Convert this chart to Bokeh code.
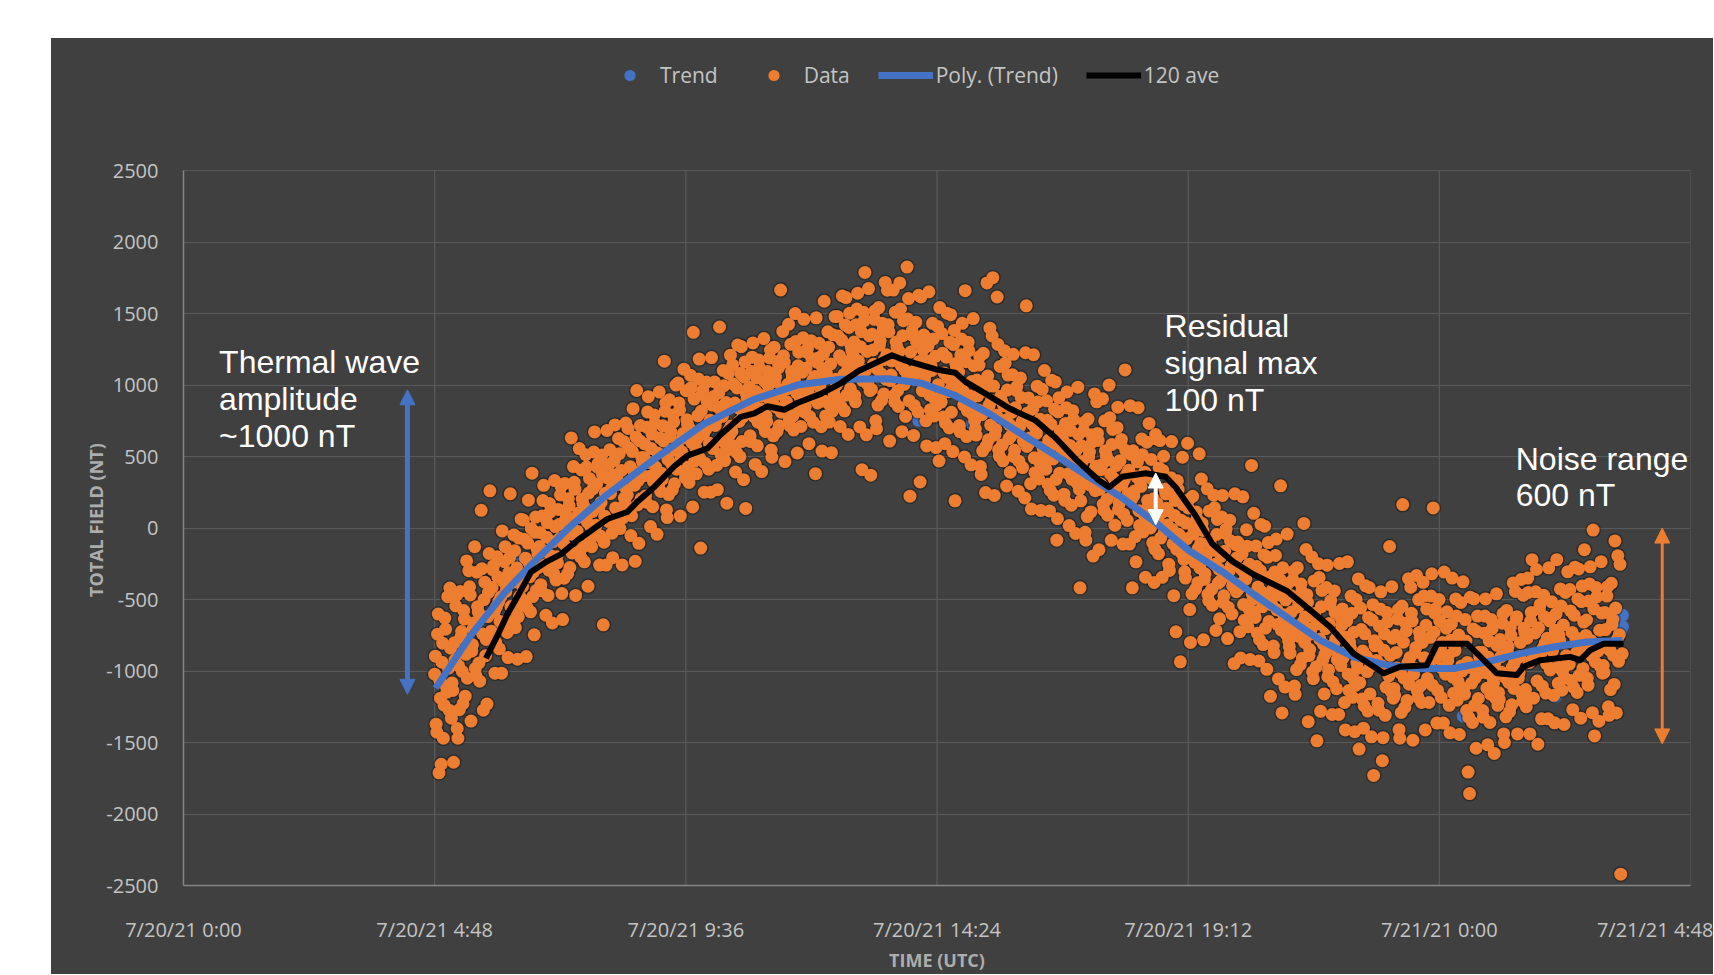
import numpy as np
import pandas as pd
from bokeh.plotting import figure
from bokeh.models import (Range1d, FixedTicker, CustomJSTickFormatter, Legend, LegendItem,
                          Label, Arrow, NormalHead)
from bokeh.embed import file_html
from bokeh.resources import INLINE

# ---------------- data ----------------
BASE = "2021-07-20 00:00"

x_tick_hours = [0, 4.8, 9.6, 14.4, 19.2, 24.0, 28.8]
x_tick_labels = ["7/20/21 0:00", "7/20/21 4:48", "7/20/21 9:36", "7/20/21 14:24",
                 "7/20/21 19:12", "7/21/21 0:00", "7/21/21 4:48"]
y_ticks = [-2500, -2000, -1500, -1000, -500, 0, 500, 1000, 1500, 2000, 2500]
y_tick_labels = ["-2500", "-2000", "-1500", "-1000", "-500", "0", "500", "1000",
                 "1500", "2000", "2500"]

# "Data" series (nT).  Samples start 7/20/21 4:48, one every 50 s:
# data_values_a holds the even samples, data_values_b the odd ones.
data_start_hour = 4.8
data_step_seconds = 50
data_values_a = [
    -1022, -1372, -742, -1712, -1190, -938, -1470, -630, -1106, -480, -1274, -840,
    -1083, -1638, -923, -470, -1470, -1270, -764, -1003, -577, -1176, -230, -843,
    -411, -1350, -817, -665, -982, -309, -588, -1071, 124, -741, -500, -893,
    -1231, -450, 260, -721, -291, -585, -800, -201, -517, -653, -1015, -370,
    -235, -444, -730, -312, 240, -653, -378, -158, -576, -917, -70, -510,
    -372, 56, -511, -899, -105, -244, -586, 384, -308, -30, -436, -179,
    -129, -396, 85, 299, -257, -64, -471, 171, -193, -664, -321, 10,
    -201, 130, -73, 291, -640, -351, 56, -137, 205, -276, 630, -9,
    320, -471, -22, 106, -161, 406, 171, -236, 513, 42, 245, -86,
    -131, 276, 672, 19, 425, 147, -56, 511, -677, 83, -259, 350,
    445, 242, -36, 371, 721, 39, 306, 520, 114, -258, 606, 178,
    268, 696, 129, -53, 535, 396, -233, 962, 332, 610, 204, 461,
    491, 224, 705, 919, 363, 556, 149, 791, 427, -44, 299, 630,
    384, 715, 1167, 876, 73, 234, 641, 448, 790, 309, 1000, 576,
    875, 84, 533, 661, 394, 961, 726, 319, 1068, 597, 1369, 469,
    379, 786, 1182, -140, 935, 657, 454, 1021, 721, 593, 251, 860,
    920, 717, 439, 846, 1406, 514, 781, 995, 589, 174, 1081, 653,
    713, 1141, 574, 392, 980, 841, 499, 1269, 777, 1055, 137, 906,
    895, 645, 1095, 1295, 775, 955, 575, 1175, 835, 395, 715, 1025,
    785, 1095, 905, 1245, 495, 645, 1025, 845, 1165, 715, 1665, 965,
    1205, 465, 885, 1005, 755, 1285, 1065, 685, 1500, 945, 1135, 825,
    710, 1090, 1460, 850, 1230, 970, 780, 1310, 1030, 910, 380, 1160,
    1190, 987, 709, 1116, 1586, 784, 1051, 1265, 859, 527, 1351, 923,
    1040, 1480, 897, 710, 1315, 1172, 820, 1612, 1106, 1403, 974, 1238,
    1202, 927, 1422, 1642, 1070, 1268, 408, 1510, 1788, 652, 1004, 1345,
    370, 1355, 1146, 1520, 695, 860, 1278, 1080, 1432, 937, 1718, 1212,
    1422, 608, 1070, 1202, 927, 1510, 1268, 850, 1714, 1136, 1345, 1004,
    780, 1825, 1605, 223, 1352, 1066, 857, 1440, 1132, 1628, 322, 1275,
    1245, 1036, 750, 1168, 1652, 827, 1102, 1322, 904, 563, 1410, 469,
    920, 1360, 777, 590, 1195, 1052, 700, 1492, 986, 1283, 190, 1118,
    992, 717, 1212, 1432, 860, 1660, 640, 1300, 926, 442, 794, 1135,
    694, 1035, 826, 1200, 375, 540, 958, 248, 1714, 617, 1398, 892,
    1751, 228, 690, 1616, 547, 1130, 888, 470, 1240, 756, 965, 624,
    390, 808, 1215, 544, 962, 676, 467, 1050, 742, 610, 210, 1554,
    805, 596, 310, 728, 1212, 387, 662, 882, 464, 123, 970, 530,
    450, 890, 307, 120, 725, 582, 230, 1022, -85, 813, 384, 648,
    512, 237, 732, 952, 380, 578, 160, 820, 446, -38, 314, 655,
    -418, 575, 366, 740, -85, 80, 498, 300, 652, -196, 938, 432,
    662, -152, 310, 442, 167, 750, 508, 90, 1000, 376, 585, 244,
    20, 438, 845, 174, 592, 306, 97, 1106, 372, 240, -112, 515,
    -418, 226, -60, 358, 842, 17, 292, 512, 94, -344, 600, 160,
    40, 480, -103, -381, 654, 172, -180, 612, 106, 403, -26, 238,
    22, -253, 242, 605, -110, 88, -726, 330, -44, -936, -176, 165,
    -306, 35, 593, 200, -800, -460, -42, -240, 112, -383, 519, -108,
    32, -782, -320, -188, -463, 120, -122, -540, 230, -254, -45, -386,
    -635, -198, 228, -474, -37, -336, -555, 55, -267, -405, -948, -117,
    -207, -426, -725, -288, 218, -645, -357, -127, -564, -920, 438, -495,
    -585, -125, -735, -930, -297, -447, -815, 13, -516, -205, -654, -1177,
    -537, -825, -307, -77, -675, -468, 295, -1293, -606, -1112, -744, -387,
    -829, -472, -691, -300, -1163, -990, -553, -760, -392, -910, 32, -622,
    -466, -1354, -850, -706, -1006, -370, -634, -1488, -250, -778, -550, -922,
    -1160, -704, -260, -992, -536, -848, -1076, -440, -776, -920, -1304, -620,
    -680, -908, -1220, -764, -236, -1136, -836, -596, -1052, -1424, -500, -980,
    -1546, -560, -1196, -1400, -740, -896, -1280, -416, -968, -644, -1730, -824,
    -926, -1226, -686, -446, -1627, -854, -1310, -590, -998, -129, -1142, -770,
    -1122, -750, -978, -570, -1470, -1290, 164, -1050, -666, -1206, -354, -906,
    -596, -1484, -980, -836, -1136, -500, -764, -1220, -380, -908, -680, -1052,
    -1220, -764, -320, 141, -596, -908, -1136, -500, -836, -980, -1364, -680,
    -700, -928, -1240, -784, -350, -1156, -856, -616, -1072, -1444, -520, -1000,
    -1120, -640, -1276, -1707, -1857, -976, -1360, -496, -1048, -724, -1192, -904,
    -976, -1276, -736, -496, -1120, -904, -1360, -640, -1048, -1576, -1192, -820,
    -1152, -780, -1008, -600, -1500, -1320, -864, -1080, -696, -1236, -384, -936,
    -640, -1440, -1010, -800, -1160, -470, -730, -1250, -350, -940, -650, -221,
    -1190, -734, -290, -1512, -566, -878, -1106, -470, -806, -950, -1334, -650,
    -630, -858, -1170, -714, -221, -1086, -786, -546, -1002, -1374, -450, -930,
    -910, -430, -1066, -1270, -610, -766, -1150, -286, -838, -514, -982, -152,
    -751, -1051, -511, -271, -895, -14, -1454, -415, -823, -1351, -967, -595,
    -962, -590, -818, -410, -1310, -1130, -674, -890, -90, -1293, -194, -746,
    -2421, -880,
]
data_values_b = [
    -896, -1428, -602, -1064, -1652, -805, -1239, -707, -1148, -980, -420, -1330,
    -1136, -803, -544, -1402, -963, -444, -724, -1229, -637, -883, -1050, -298,
    -468, -861, -703, -131, -1033, -550, -944, -626, -284, -1274, -379, -779,
    -619, -178, -766, -416, -263, -1015, -551, -342, -845, -483, -20, -693,
    -130, -411, -906, -207, -549, -345, -48, -697, -279, -620, -477, 62,
    -409, -78, -211, -554, 195, -340, -3, -479, -747, 77, -147, -276,
    -32, -439, 192, -161, -610, 37, -294, 112, -225, -96, 332, -364,
    -244, 24, 232, -458, -105, 312, 88, -319, 157, -41, -174, 430,
    272, -59, 74, 556, -204, 203, -129, 139, 427, -407, 347, 10,
    115, 532, -24, 308, 452, -259, 179, 377, -99, 244, 682, 46,
    547, 274, -207, 472, 141, 339, 627, -4, 403, 71, 210, 734,
    231, 562, 429, 86, 835, 300, 637, 161, -107, 717, 493, 364,
    588, 181, 812, 459, 10, 657, 326, 732, 395, 524, 952, 256,
    341, 609, 817, 127, 480, 897, 673, 266, 742, 544, 411, 1015,
    827, 496, 629, 1111, 351, 758, 426, 694, 982, 148, 902, 565,
    625, 1042, 486, 818, 962, 251, 689, 887, 411, 754, 1192, 556,
    1022, 749, 268, 947, 616, 814, 1102, 471, 878, 546, 685, 1209,
    676, 1007, 874, 531, 1280, 745, 1082, 606, 338, 1162, 938, 809,
    985, 605, 1195, 865, 445, 1050, 740, 1120, 805, 925, 1325, 675,
    745, 995, 1190, 545, 875, 1265, 1055, 675, 1120, 935, 810, 1375,
    1160, 850, 975, 1425, 715, 1095, 785, 1035, 1305, 525, 1230, 915,
    940, 1330, 810, 1120, 1255, 590, 1000, 1185, 740, 1060, 1470, 875,
    1292, 1019, 538, 1217, 886, 1084, 1372, 741, 1148, 816, 955, 1479,
    1001, 1343, 1205, 853, 1623, 1073, 1420, 930, 655, 1502, 1271, 1139,
    1301, 883, 1532, 1169, 707, 1373, 1031, 1450, 1103, 1235, 1675, 960,
    970, 1245, 1460, 750, 1113, 1542, 1311, 893, 1383, 1179, 1041, 1663,
    1373, 1031, 1169, 1664, 883, 1301, 960, 1235, 1532, 674, 1450, 1103,
    1033, 1462, 890, 1231, 1380, 648, 1099, 1303, 813, 1165, 1616, 961,
    1350, 1069, 574, 1273, 931, 1135, 1432, 783, 1201, 860, 1003, 1542,
    881, 1223, 1085, 733, 1503, 953, 1300, 810, 535, 1382, 1151, 1019,
    1091, 673, 1322, 959, 497, 1163, 821, 1240, 893, 1025, 1465, 750,
    650, 925, 1140, 430, 793, 1222, 991, 573, 1063, 859, 721, 1343,
    993, 651, 789, 1284, 503, 921, 580, 855, 1152, 294, 1070, 723,
    643, 1072, 500, 841, 990, 258, 709, 913, 423, 775, 1226, 571,
    910, 629, 134, 833, 491, 695, 992, 343, 761, 420, 563, 1102,
    411, 753, 615, 263, 1033, 483, 830, 340, 65, 912, 681, 549,
    611, 193, 842, 479, 17, 683, 341, 760, 413, 545, 985, 270,
    190, 465, 680, -30, 333, 762, 531, 113, 603, 399, 261, 883,
    613, 271, 409, 904, 123, 541, 200, 475, 772, -86, 690, 343,
    273, 702, 130, 471, 620, -112, 339, 543, 53, 405, 856, 201,
    540, 259, -236, 463, 121, 325, 622, -27, 391, 50, 193, 732,
    1, 343, 205, -147, 623, 73, 420, -70, -345, 502, 271, 139,
    121, -297, 352, -11, -473, 193, -149, 270, -77, 55, 495, -220,
    -350, -75, 140, -570, -207, 222, -9, -427, 63, -141, -279, 343,
    -17, -359, -221, 274, -507, -89, -430, -155, 142, -716, 60, -287,
    -371, 78, -520, -163, -8, -773, -302, -89, -601, -232, 239, -445,
    -98, -392, -909, -179, -535, -322, -12, -691, -253, -610, -461, 103,
    -625, -269, -412, -781, 25, -551, -188, -700, -988, -102, -343, -482,
    -433, -871, -192, -572, -1055, -359, -715, -278, -641, -502, -42, -790,
    -875, -587, -363, -1105, -726, -277, -518, -956, -444, -657, -800, -150,
    -520, -892, -742, -202, -1054, -598, -970, -670, -346, -1282, -436, -814,
    -884, -416, -1040, -668, -506, -1304, -812, -590, -1124, -740, -248, -962,
    -566, -872, -1412, -650, -1022, -800, -476, -1184, -728, -1100, -944, -356,
    -1082, -710, -860, -1244, -404, -1004, -626, -1160, -1460, -536, -788, -932,
    -818, -1274, -566, -962, -1466, -740, -1112, -656, -1034, -890, -410, -1190,
    -1170, -870, -636, -1410, -1014, -546, -798, -1254, -720, -942, -1092, -414,
    -650, -1022, -872, -332, -1184, -728, -1100, -800, -476, -1412, -566, -944,
    -944, -476, -1100, -728, -566, -1364, -872, -650, -1184, -800, -308, -1022,
    -586, -892, -1432, -670, -1042, -820, -496, -1204, -748, -1120, -964, -376,
    -1162, -790, -940, -1324, -484, -1084, -706, -1240, -1540, -616, -868, -1012,
    -868, -1324, -616, -1012, -1516, -790, -1162, -706, -1084, -940, -460, -1240,
    -1200, -900, -666, -1440, -1044, -576, -828, -1284, -750, -972, -1122, -444,
    -620, -1050, -900, -360, -1210, -700, -1130, -770, -450, -1440, -590, -915,
    -914, -446, -1070, -698, -536, -1334, -842, -620, -1154, -770, -278, -992,
    -516, -822, -1362, -600, -972, -750, -426, -1134, -678, -1050, -894, -306,
    -952, -580, -730, -1114, -274, -874, -496, -1030, -1330, -406, -658, -802,
    -643, -1099, -391, -787, -1291, -565, -937, -481, -859, -715, -235, -1015,
    -1010, -710, -476, -1250, -854, -386, -638, -1094, -560, -782, -932, -254,
]

# "Trend" series points visible in the picture (hours since 7/20 0:00, nT)
trend_hours = [6.45, 14.05, 15.07, 18.84, 19.79, 24.46, 26.22, 27.46, 27.50, 27.50]
trend_values = [-208, 753, 728, -270, -418, -1316, -1177, -730, -690, -610]

# Poly. (Trend) curve
poly_hours = [4.82, 5.49, 6.13, 6.64, 7.40, 8.10, 9.00, 9.95, 10.91, 11.73, 12.56, 13.47,
              14.11, 14.75, 15.39, 16.03, 16.67, 17.30, 17.94, 18.58, 19.22, 19.86, 20.45,
              21.09, 21.73, 22.36, 23.00, 23.64, 24.27, 24.91, 25.55, 26.18, 26.82, 27.50]
poly_values = [-1120, -751, -455, -258, 14, 235, 482, 728, 901, 1000, 1040, 1044,
               1012, 926, 802, 654, 507, 359, 211, 38, -159, -307, -463,
               -624, -786, -901, -959, -982, -982, -936, -878, -832, -797, -786]

# 120 ave (moving average)
ave_hours = [5.78, 6.00, 6.19, 6.38, 6.64, 6.95, 7.21, 7.53, 7.72, 8.10, 8.48, 8.68, 8.99,
             9.38, 9.63, 10.01, 10.27, 10.65, 10.91, 11.16, 11.48, 11.74, 12.18, 12.56,
             12.90, 13.54, 13.79, 14.37, 14.75, 14.94, 15.39, 15.77, 16.28, 16.67, 17.05,
             17.49, 17.69, 17.94, 18.39, 18.77, 18.96, 19.34, 19.66, 20.05, 20.45, 21.09,
             21.47, 21.92, 22.36, 22.94, 23.25, 23.76, 23.96, 24.15, 24.53, 24.85, 25.10,
             25.48, 25.61, 25.93, 26.50, 26.69, 26.88, 27.14, 27.52]
ave_values = [-911, -751, -603, -480, -308, -233, -184, -85, -36, 63, 112, 186, 285,
              432, 506, 556, 654, 778, 802, 852, 827, 876, 938, 1012,
              1098, 1209, 1172, 1111, 1086, 1024, 926, 839, 753, 630, 482,
              334, 285, 359, 383, 359, 285, 88, -110, -233, -325, -440,
              -555, -694, -878, -1016, -970, -959, -809, -809, -809, -924, -1016,
              -1028, -970, -924, -901, -924, -855, -809, -809]

# annotations: (text, hour, value)
notes = [("Thermal wave", 0.68, 1158), ("amplitude", 0.68, 904), ("~1000 nT", 0.68, 642),
         ("Residual", 18.75, 1410), ("signal max", 18.75, 1157), ("100 nT", 18.75, 894),
         ("Noise range", 25.46, 485), ("600 nT", 25.46, 231)]
# arrows: (hour, value_top, value_bottom, colour, width)
arrows = [(4.28, 967, -1163, "#4472C4", 5), (18.58, 385, 23, "#FFFFFF", 4),
          (28.26, 0, -1510, "#ED7D31", 3)]

# ---------------- layout (pixels) ----------------
FIG_W, FIG_H = 1662, 936
BORDER_L, BORDER_R, BORDER_T, BORDER_B = 132, 23, 4, 79
AXIS_TOP_PX = 133.6          # distance from figure top to the 2500 gridline
frame_h = FIG_H - BORDER_T - BORDER_B
axis_h = FIG_H - BORDER_B - AXIS_TOP_PX
y_lo, y_hi = y_ticks[0], y_ticks[-1]
y_top = y_lo + (y_hi - y_lo) * frame_h / axis_h   # room above the axis for the legend

# ---------------- helpers ----------------
base_ms = pd.Timestamp(BASE).value / 1e6
H = 3.6e6


def hx(hours):
    return base_ms + np.asarray(hours, dtype=float) * H


step_ms = data_step_seconds * 1000.0
xa = hx(data_start_hour) + np.arange(len(data_values_a)) * 2 * step_ms
xb = hx(data_start_hour) + step_ms + np.arange(len(data_values_b)) * 2 * step_ms
data_x = np.concatenate([xa, xb])
data_y = np.concatenate([np.asarray(data_values_a, float), np.asarray(data_values_b, float)])

BG = "#404040"
ORANGE = "#ED7D31"
BLUE = "#4472C4"
LABEL_C = "#c4c4c4"
TITLE_C = "#adadad"
GRID_C = "#5a5a5a"

p = figure(width=FIG_W, height=FIG_H, output_backend="svg", toolbar_location=None, tools="",
           title=None, outline_line_color=None,
           x_range=Range1d(hx(0), hx(28.8)), y_range=Range1d(y_lo, y_top),
           background_fill_color=BG, border_fill_color=None,
           min_border_left=BORDER_L, min_border_right=BORDER_R,
           min_border_top=BORDER_T, min_border_bottom=BORDER_B)
p.margin = (38, 0, 0, 51)
p.styles = {"background-color": BG}
p.outline_line_alpha = 0

xt = [float(v) for v in hx(x_tick_hours)]
xticker = FixedTicker(ticks=xt)
yticker = FixedTicker(ticks=y_ticks)
p.xaxis.ticker = xticker
p.yaxis.ticker = yticker
p.ygrid.ticker = yticker
p.xgrid.visible = False
p.yaxis[0].bounds = (y_lo, y_hi)
p.xaxis.formatter = CustomJSTickFormatter(args=dict(tv=xt, labs=x_tick_labels), code="""
    for (let i = 0; i < tv.length; i++) { if (Math.abs(tv[i] - tick) < 1000) return labs[i]; }
    return "";
""")
p.yaxis.formatter = CustomJSTickFormatter(args=dict(tv=y_ticks, labs=y_tick_labels), code="""
    for (let i = 0; i < tv.length; i++) { if (Math.abs(tv[i] - tick) < 0.5) return labs[i]; }
    return "";
""")
for ax in (p.xaxis[0], p.yaxis[0]):
    ax.major_tick_line_color = None
    ax.minor_tick_line_color = None
    ax.axis_line_color = "#858585"
    ax.axis_line_width = 1.5
    ax.major_label_text_color = LABEL_C
    ax.major_label_text_font = "Open Sans"
    ax.major_label_text_font_size = "20px"
    ax.axis_label_text_font = "Open Sans"
    ax.axis_label_text_font_size = "18px"
    ax.axis_label_text_font_style = "bold"
    ax.axis_label_text_color = TITLE_C
p.xaxis.major_label_standoff = 24
p.yaxis.major_label_standoff = 19
# trailing no-break spaces move the centred title down to the middle of the -2500..2500 span
p.yaxis.axis_label = "TOTAL FIELD (NT)" + "\u00a0" * 24
p.yaxis.axis_label_standoff = -5
p.xaxis.axis_label = "TIME (UTC)"
p.xaxis.axis_label_standoff = 2
p.ygrid.grid_line_color = GRID_C
p.ygrid.grid_line_width = 1.2

# vertical grid lines, limited to the axis span
p.segment(x0=xt[1:], y0=[y_lo] * (len(xt) - 1), x1=xt[1:], y1=[y_hi] * (len(xt) - 1),
          line_color=GRID_C, line_width=1.2)

# renderers
r_trend = p.scatter(hx(trend_hours), trend_values, size=13, fill_color=BLUE, line_color=None)
p.scatter(data_x, data_y, size=16, fill_color="black", fill_alpha=0.30, line_color=None)
r_data = p.scatter(data_x, data_y, size=13, fill_color=ORANGE, line_color=None)
r_poly = p.line(hx(poly_hours), poly_values, line_color=BLUE, line_width=7, line_join="round")
r_ave = p.line(hx(ave_hours), ave_values, line_color="black", line_width=6, line_join="round")

for text, h, v in notes:
    p.add_layout(Label(x=float(hx(h)), y=v, text=text, text_color="white",
                       text_font="Liberation Sans", text_font_size="32px",
                       text_baseline="middle", text_align="left"))

for h, v0, v1, col, w in arrows:
    p.add_layout(Arrow(x_start=float(hx(h)), y_start=v0, x_end=float(hx(h)), y_end=v1,
                       line_color=col, line_width=w,
                       start=NormalHead(size=15, fill_color=col, line_color=col),
                       end=NormalHead(size=15, fill_color=col, line_color=col)))

legend = Legend(items=[LegendItem(label="Trend", renderers=[r_trend]),
                       LegendItem(label="Data", renderers=[r_data]),
                       LegendItem(label="Poly. (Trend)", renderers=[r_poly]),
                       LegendItem(label="120 ave", renderers=[r_ave])],
                orientation="horizontal", location=(419, 796),
                background_fill_alpha=0, border_line_color=None,
                label_text_color=LABEL_C, label_text_font="Open Sans",
                label_text_font_size="21px", glyph_width=55, glyph_height=28,
                label_standoff=3, spacing=28, padding=0, margin=0)
p.add_layout(legend)

open("out.html", "w").write(file_html(p, INLINE))
